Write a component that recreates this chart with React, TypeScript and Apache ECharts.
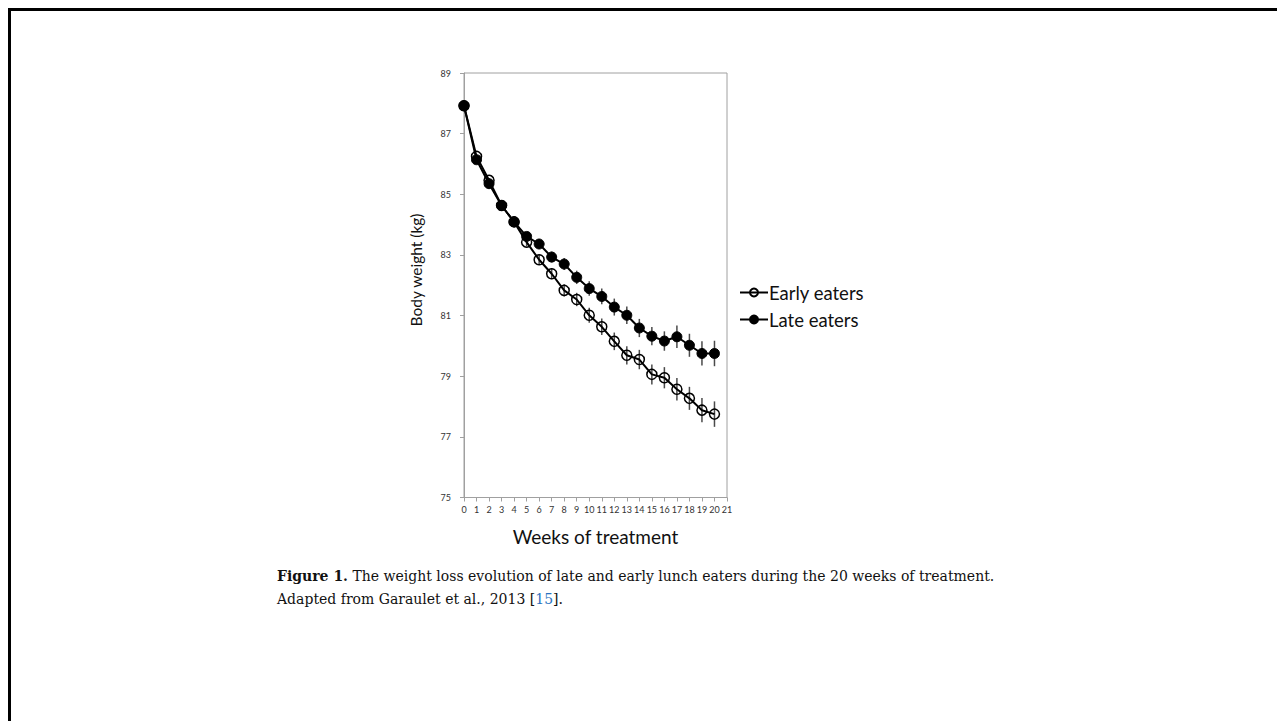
import React, { useEffect, useRef } from "react";
import * as echarts from "echarts";

const weeks = [0, 1, 2, 3, 4, 5, 6, 7, 8, 9, 10, 11, 12, 13, 14, 15, 16, 17, 18, 19, 20];
const earlyEaters = [87.92, 86.25, 85.46, 84.63, 84.09, 83.42, 82.84, 82.38, 81.83, 81.53, 81.01, 80.63, 80.15, 79.69, 79.55, 79.06, 78.95, 78.57, 78.27, 77.88, 77.75];
const lateEaters = [87.92, 86.14, 85.35, 84.63, 84.09, 83.61, 83.36, 82.93, 82.70, 82.26, 81.89, 81.63, 81.28, 81.01, 80.59, 80.32, 80.16, 80.30, 80.02, 79.75, 79.75];
const earlyErr = [0, 0.05, 0.08, 0.1, 0.12, 0.14, 0.16, 0.18, 0.2, 0.22, 0.25, 0.27, 0.29, 0.3, 0.32, 0.33, 0.35, 0.37, 0.38, 0.4, 0.42];
const lateErr = [0, 0.05, 0.08, 0.1, 0.12, 0.14, 0.16, 0.18, 0.2, 0.22, 0.24, 0.26, 0.28, 0.29, 0.3, 0.3, 0.32, 0.37, 0.38, 0.4, 0.42];
const yTicks = { min: 75, max: 89, interval: 2 };
const xTicks = { min: 0, max: 21, interval: 1 };

const seriesNames = ["Early eaters", "Late eaters"];
const yTitle = "Body weight (kg)";
const xTitle = "Weeks of treatment";
const captionBold = "Figure 1.";
const captionLine1 = " The weight loss evolution of late and early lunch eaters during the 20 weeks of treatment.";
const captionLine2a = "Adapted from Garaulet et al., 2013 [";
const captionRef = "15";
const captionLine2b = "].";

const SANS = "Lato, 'Open Sans', sans-serif";
const SERIF = "'DejaVu Serif', serif";

function errorBars(values: number[], errs: number[]) {
  return weeks.map((w, i) => [w, values[i], errs[i]]);
}

function renderErr(params: any, api: any) {
  const x = api.value(0);
  const y = api.value(1);
  const e = api.value(2);
  const top = api.coord([x, y + e]);
  const bot = api.coord([x, y - e]);
  return {
    type: "line",
    shape: { x1: top[0], y1: top[1], x2: bot[0], y2: bot[1] },
    style: { stroke: "#4a4a4a", lineWidth: 1.5 },
  };
}

export default function App() {
  const ref = useRef<HTMLDivElement>(null);
  useEffect(() => {
    if (!ref.current) return;
    const chart = echarts.init(ref.current, undefined, { renderer: "svg" });
    chart.setOption({
      animation: false,
      backgroundColor: "#ffffff",
      legend: {
        orient: "vertical",
        left: 734,
        top: 278,
        itemWidth: 28,
        itemHeight: 10,
        itemGap: 8,
        data: seriesNames,
        textStyle: { fontFamily: SANS, fontSize: 18.5, color: "#111", padding: [0, 0, 0, -4] },
      },
      grid: {
        left: 464,
        top: 73,
        width: 263,
        height: 424.5,
        show: true,
        borderColor: "#a0a0a0",
        borderWidth: 1,
        backgroundColor: "transparent",
      },
      xAxis: {
        type: "value",
        min: xTicks.min,
        max: xTicks.max,
        interval: xTicks.interval,
        name: xTitle,
        nameLocation: "middle",
        nameGap: 29,
        nameTextStyle: { fontFamily: SANS, fontSize: 19, color: "#111" },
        axisLine: { show: true, lineStyle: { color: "#a0a0a0", width: 1 } },
        axisTick: { show: true, length: 4, lineStyle: { color: "#a0a0a0" } },
        axisLabel: { fontFamily: SANS, fontSize: 9, color: "#333", margin: 7 },
        splitLine: { show: false },
      },
      yAxis: {
        type: "value",
        min: yTicks.min,
        max: yTicks.max,
        interval: yTicks.interval,
        axisLine: { show: true, lineStyle: { color: "#a0a0a0", width: 1 } },
        axisTick: { show: true, length: 4, lineStyle: { color: "#a0a0a0" } },
        axisLabel: { fontFamily: SANS, fontSize: 9, color: "#333", margin: 13 },
        splitLine: { show: false },
      },
      series: [
        {
          type: "custom",
          name: "earlyErr",
          renderItem: renderErr,
          data: errorBars(earlyEaters, earlyErr),
          encode: { x: 0, y: 1 },
          z: 1,
          silent: true,
        },
        {
          type: "custom",
          name: "lateErr",
          renderItem: renderErr,
          data: errorBars(lateEaters, lateErr),
          encode: { x: 0, y: 1 },
          z: 1,
          silent: true,
        },
        {
          type: "line",
          name: seriesNames[0],
          data: weeks.map((w, i) => [w, earlyEaters[i]]),
          symbol: "circle",
          symbolSize: 10,
          z: 3,
          lineStyle: { color: "#000", width: 2 },
          itemStyle: { color: "rgba(255,255,255,0)", borderColor: "#000", borderWidth: 1.5 },
        },
        {
          type: "line",
          name: seriesNames[1],
          data: weeks.map((w, i) => [w, lateEaters[i]]),
          symbol: "circle",
          symbolSize: 10,
          z: 4,
          lineStyle: { color: "#000", width: 2 },
          itemStyle: { color: "#000", borderColor: "#000", borderWidth: 1 },
        },
      ],
      graphic: [
        { type: "line", shape: { x1: 8, y1: 9.5, x2: 1277, y2: 9.5 }, style: { stroke: "#000", lineWidth: 3 } },
        { type: "line", shape: { x1: 9.5, y1: 8, x2: 9.5, y2: 721 }, style: { stroke: "#000", lineWidth: 3 } },
        {
          type: "text",
          x: 416,
          y: 270,
          rotation: Math.PI / 2,
          style: {
            text: yTitle,
            fontFamily: SANS,
            fontSize: 15.5,
            fill: "#111",
            align: "center",
            verticalAlign: "middle",
          },
        },
        {
          type: "text",
          left: 277,
          top: 569,
          style: {
            text: "{b|" + captionBold + "}{n|" + captionLine1 + "}\n{n|" + captionLine2a + "}{r|" + captionRef + "}{n|" + captionLine2b + "}",
            rich: {
              b: { fontFamily: SERIF, fontSize: 14, fontWeight: "bold", fill: "#111", lineHeight: 23 },
              n: { fontFamily: SERIF, fontSize: 14, fill: "#111", lineHeight: 23 },
              r: { fontFamily: SERIF, fontSize: 14, fill: "#2a72c0", lineHeight: 23 },
            },
          },
        },
      ],
    });
    return () => chart.dispose();
  }, []);
  return (
    <div
      ref={ref}
      style={{ position: "absolute", left: 0, top: 0, width: 1277, height: 721 }}
    />
  );
}
